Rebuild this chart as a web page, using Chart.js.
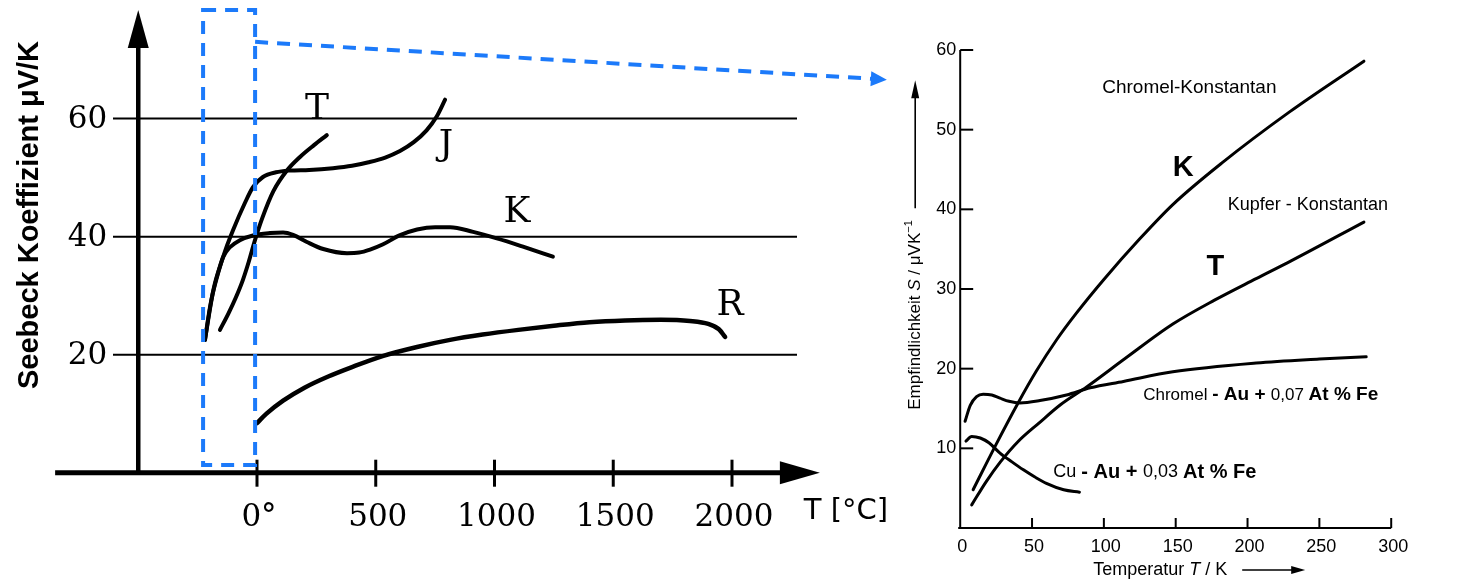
<!DOCTYPE html>
<html><head><meta charset="utf-8">
<script src="https://cdn.jsdelivr.net/npm/chart.js@4.4.1/dist/chart.umd.min.js"></script>
<style>
html,body{margin:0;padding:0;background:#fff;}
#wrap{position:relative;width:1467px;height:582px;overflow:hidden;background:#fff}
.box{position:absolute;top:0;}
</style></head><body>
<div id="wrap">
<div class="box" style="left:0;width:900px;height:582px"><canvas id="left" width="900" height="582"></canvas></div>
<div class="box" style="left:900px;width:567px;height:582px"><canvas id="right" width="567" height="582"></canvas></div>
</div>
<script>
// ---------- LEFT CHART DATA (T in °C, Seebeck coefficient in µV/K) ----------
const leftXTicks = [0, 500, 1000, 1500, 2000];
const leftXTickLabels = ['0°', '500', '1000', '1500', '2000'];
const leftYTicks = [20, 40, 60];
const leftYTickLabels = ['20', '40', '60'];
const leftSeriesNames = ['T', 'J', 'K', 'R'];

const typeT_temp    = [-156, -120, -90, -60, -35, -10, 21, 69, 126, 181, 240, 294];
const typeT_seebeck = [24.2, 27.0, 29.6, 32.6, 35.7, 39.2, 43.0, 47.7, 51.2, 53.5, 55.5, 57.2];

const typeJ_temp    = [-219, -198, -177, -147, -126, -101, -51, -17, 25, 80, 139, 220, 320, 400, 470, 540, 602, 660, 714, 756, 792];
const typeJ_seebeck = [22.5, 28.0, 32.1, 36.0, 38.5, 41.1, 45.7, 48.4, 50.1, 50.9, 51.2, 51.3, 51.6, 52.0, 52.6, 53.4, 54.5, 56.0, 58.0, 60.3, 63.2];

const typeK_temp    = [-219, -189, -168, -143, -114, -72, -17, 55, 110, 152, 210, 279, 379, 430, 476, 531, 600, 674, 750, 813, 910, 1010, 1120, 1246];
const typeK_seebeck = [22.5, 29.8, 33.2, 36.5, 38.2, 39.4, 40.2, 40.6, 40.7, 40.3, 39.1, 37.9, 37.2, 37.3, 37.8, 38.7, 40.2, 41.2, 41.6, 41.6, 40.8, 39.7, 38.3, 36.6];

const typeR_temp    = [0, 40, 110, 200, 300, 400, 532, 674, 813, 950, 1100, 1250, 1400, 1550, 1700, 1823, 1900, 1945, 1971];
const typeR_seebeck = [8.4, 10.0, 12.2, 14.4, 16.3, 17.9, 19.8, 21.3, 22.5, 23.4, 24.2, 24.9, 25.5, 25.8, 25.9, 25.7, 25.2, 24.3, 23.0];

// ---------- RIGHT CHART DATA (T in K, S in µV/K) ----------
const rightXTicks = [0, 50, 100, 150, 200, 250, 300];
const rightXTickLabels = ['0', '50', '100', '150', '200', '250', '300'];
const rightYTicks = [10, 20, 30, 40, 50, 60];
const rightYTickLabels = ['10', '20', '30', '40', '50', '60'];

const chromelKonst_temp = [9, 25, 40, 53, 67, 81, 100, 125, 148, 182, 229, 281];
const chromelKonst_S    = [4.8, 10.5, 15.6, 19.7, 23.6, 27.0, 31.2, 36.3, 40.6, 45.8, 52.2, 58.6];

const kupferKonst_temp = [8, 18, 28, 40, 55, 70, 88, 115, 148, 177, 206, 230, 281];
const kupferKonst_S    = [2.9, 5.8, 8.3, 10.8, 13.2, 15.5, 17.7, 21.3, 25.6, 28.6, 31.3, 33.5, 38.4];

const chromelAu_temp = [3.4, 7, 11.4, 16, 22, 27.7, 34, 41.6, 55.5, 74, 90.5, 113.6, 148, 206, 250, 282.6];
const chromelAu_S    = [13.4, 15.4, 16.5, 16.8, 16.7, 16.3, 15.9, 15.7, 16.0, 16.7, 17.6, 18.4, 19.6, 20.7, 21.2, 21.5];

const cuAu_temp = [4, 8, 14, 20, 27.7, 36, 44, 52, 60, 72, 83];
const cuAu_S    = [10.9, 11.5, 11.3, 10.7, 9.4, 8.3, 7.3, 6.4, 5.6, 4.8, 4.5];

// ---------- helpers ----------
const pts = (xs, ys) => xs.map((x, i) => ({ x: x, y: ys[i] }));
const BLUE = 'rgb(28,122,250)';
function arrowHead(ctx, tx, ty, ux, uy, len, half) {
  const bx = tx - ux * len, by = ty - uy * len;
  ctx.beginPath();
  ctx.moveTo(tx, ty);
  ctx.lineTo(bx - uy * half, by + ux * half);
  ctx.lineTo(bx + uy * half, by - ux * half);
  ctx.closePath();
  ctx.fill();
}
function line(ctx, x1, y1, x2, y2) { ctx.beginPath(); ctx.moveTo(x1, y1); ctx.lineTo(x2, y2); ctx.stroke(); }
function segs(ctx, parts, x, y) {
  let cx = x;
  parts.forEach(([t, f]) => { ctx.font = f; ctx.fillText(t, cx, y); cx += ctx.measureText(t).width; });
}
const lineDs = (label, xs, ys, w) => ({
  label: label, data: pts(xs, ys), borderColor: '#000', borderWidth: w,
  pointRadius: 0, fill: false, cubicInterpolationMode: 'monotone', borderCapStyle: 'round', borderJoinStyle: 'round'
});

// ---------- LEFT CHART ----------
const leftYAxisAt = -500, leftXAxisFrom = -850, leftXAxisTo = 2370;
const leftLabelPos = { T: [253, 61.6], J: [796, 55.5], K: [1095, 44.0], R: [1992, 28.3] };
const zoomBoxT = [-227, -8], zoomBoxS = [1.3, 78.4];
const zoomArrowFrom = [-8, 73.0], zoomArrowTo = [2652, 66.6];
const SERIF = '"DejaVu Serif", "Liberation Serif", serif';

const leftDeco = {
  id: 'leftDeco',
  beforeDatasetsDraw(chart) {
    const { ctx, chartArea: a, scales: { x, y } } = chart;
    ctx.save();
    ctx.strokeStyle = '#000'; ctx.fillStyle = '#000';
    ctx.lineWidth = 2;
    leftYTicks.forEach(v => { const py = y.getPixelForValue(v); line(ctx, a.left, py, a.right, py); });
    const ax = x.getPixelForValue(leftYAxisAt), y0 = y.getPixelForValue(0);
    ctx.lineWidth = 4.5; line(ctx, ax, y0 + 2, ax, a.top + 30);
    arrowHead(ctx, ax, a.top, 0, -1, 38, 10.5);
    const xs = x.getPixelForValue(leftXAxisFrom), xe = x.getPixelForValue(leftXAxisTo);
    ctx.lineWidth = 5; line(ctx, xs, y0, xe - 30, y0);
    arrowHead(ctx, xe, y0, 1, 0, 40, 11.5);
    ctx.lineWidth = 3;
    leftXTicks.forEach(t => { const px = x.getPixelForValue(t); line(ctx, px, y0 - 13, px, y0 + 14); });
    ctx.font = '31px ' + SERIF;
    ctx.textBaseline = 'middle';
    ctx.textAlign = 'center';
    leftXTicks.forEach((t, i) => ctx.fillText(leftXTickLabels[i], x.getPixelForValue(t) + 2, y0 + 45));
    ctx.textAlign = 'right';
    leftYTicks.forEach((v, i) => ctx.fillText(leftYTickLabels[i], ax - 31, y.getPixelForValue(v) + 1));
    // axis titles
    ctx.textAlign = 'center';
    ctx.font = '29px "DejaVu Sans", sans-serif';
    ctx.fillText('T [°C]', xe + 26, y0 + 39);
    ctx.save();
    ctx.translate(30, 215); ctx.rotate(-Math.PI / 2);
    ctx.font = 'bold 29px "Liberation Sans", Arial, sans-serif';
    ctx.fillText('Seebeck Koeffizient μV/K', 0, 0);
    ctx.restore();
    ctx.restore();
  },
  afterDraw(chart) {
    const { ctx, scales: { x, y } } = chart;
    ctx.save();
    ctx.fillStyle = '#000';
    ctx.font = '36px ' + SERIF;
    ctx.textAlign = 'center'; ctx.textBaseline = 'middle';
    leftSeriesNames.forEach(n => { const p = leftLabelPos[n]; ctx.fillText(n, x.getPixelForValue(p[0]), y.getPixelForValue(p[1])); });
    // blue dashed zoom box + arrow
    ctx.strokeStyle = BLUE; ctx.fillStyle = BLUE; ctx.lineWidth = 4;
    ctx.setLineDash([13, 9]);
    const bx1 = x.getPixelForValue(zoomBoxT[0]), bx2 = x.getPixelForValue(zoomBoxT[1]);
    const by1 = y.getPixelForValue(zoomBoxS[1]), by2 = y.getPixelForValue(zoomBoxS[0]);
    ctx.strokeRect(bx1, by1, bx2 - bx1, by2 - by1);
    const sx = x.getPixelForValue(zoomArrowFrom[0]), sy = y.getPixelForValue(zoomArrowFrom[1]);
    const ex = x.getPixelForValue(zoomArrowTo[0]), ey = y.getPixelForValue(zoomArrowTo[1]);
    const L = Math.hypot(ex - sx, ey - sy), ux = (ex - sx) / L, uy = (ey - sy) / L;
    line(ctx, sx, sy, ex - ux * 15, ey - uy * 15);
    ctx.setLineDash([]);
    arrowHead(ctx, ex, ey, ux, uy, 16, 7.5);
    ctx.restore();
  }
};

new Chart(document.getElementById('left'), {
  type: 'line',
  data: { datasets: [
    lineDs('T', typeT_temp, typeT_seebeck, 4),
    lineDs('J', typeJ_temp, typeJ_seebeck, 4),
    lineDs('K', typeK_temp, typeK_seebeck, 4),
    lineDs('R', typeR_temp, typeR_seebeck, 4.5)
  ] },
  options: {
    responsive: false, animation: false, devicePixelRatio: 1,
    layout: { padding: { left: 113, right: 103, top: 10, bottom: 109.3 } },
    scales: {
      x: { type: 'linear', min: -606.3, max: 2273.7, display: false },
      y: { type: 'linear', min: 0, max: 78.4, display: false }
    },
    plugins: { legend: { display: false }, tooltip: { enabled: false } }
  },
  plugins: [leftDeco]
});

// ---------- RIGHT CHART ----------
const SANS = '"Liberation Sans", sans-serif';
const rightLabels = [
  { parts: [['Chromel-Konstantan', '19px ' + SANS]], at: [159.5, 55.3], align: 'center' },
  { parts: [['K', 'bold 29px ' + SANS]], at: [155.3, 45.2], align: 'center' },
  { parts: [['Kupfer - Konstantan', '18px ' + SANS]], at: [242, 40.6], align: 'center' },
  { parts: [['T', 'bold 29px ' + SANS]], at: [177.6, 32.8], align: 'center' },
  { parts: [['Chromel ', '17px ' + SANS], ['- Au + ', 'bold 19px ' + SANS],
            ['0,07 ', '17px ' + SANS], ['At % Fe', 'bold 19px ' + SANS]], at: [127.4, 16.7], align: 'left' },
  { parts: [['Cu ', '18px ' + SANS], ['- Au + ', 'bold 20px ' + SANS],
            ['0,03 ', '18px ' + SANS], ['At % Fe', 'bold 20px ' + SANS]], at: [64.8, 7.0], align: 'left' }
];

const rightDeco = {
  id: 'rightDeco',
  beforeDatasetsDraw(chart) {
    const { ctx, chartArea: a, scales: { x, y } } = chart;
    ctx.save();
    ctx.strokeStyle = '#000'; ctx.fillStyle = '#000'; ctx.lineWidth = 2;
    const x0 = x.getPixelForValue(0), y0 = y.getPixelForValue(0);
    line(ctx, x0, y0 + 1, x0, y.getPixelForValue(60));
    line(ctx, x0 - 2, y0, x.getPixelForValue(300), y0);
    rightYTicks.forEach(v => { const py = y.getPixelForValue(v); line(ctx, x0, py, x0 + 13, py); });
    rightXTicks.forEach(t => { if (t > 0) { const px = x.getPixelForValue(t); line(ctx, px, y0, px, y0 - 10); } });
    ctx.font = '18px ' + SANS;
    ctx.textBaseline = 'middle';
    ctx.textAlign = 'right';
    rightYTicks.forEach((v, i) => ctx.fillText(rightYTickLabels[i], x0 - 4, y.getPixelForValue(v)));
    ctx.textAlign = 'center';
    rightXTicks.forEach((t, i) => ctx.fillText(rightXTickLabels[i], x.getPixelForValue(t) + 2, y0 + 19));
    // x title
    ctx.textAlign = 'left';
    segs(ctx, [['Temperatur ', '18px ' + SANS], ['T', 'italic 18px ' + SANS], [' / K', '18px ' + SANS]], x0 + 133, y0 + 42);
    ctx.lineWidth = 1.6;
    line(ctx, x0 + 282, y0 + 42, x0 + 335, y0 + 42);
    arrowHead(ctx, x0 + 345, y0 + 42, 1, 0, 14, 4);
    // y title
    ctx.save();
    ctx.translate(x0 - 45, 315); ctx.rotate(-Math.PI / 2);
    ctx.textAlign = 'left';
    const F = '17px ' + SANS, FI = 'italic 17px ' + SANS, FS = '11px ' + SANS;
    const t1 = 'Empfindlichkeit ', t3 = ' / μVK';
    ctx.font = F; const w1 = ctx.measureText(t1).width, w3 = ctx.measureText(t3).width;
    ctx.font = FI; const w2 = ctx.measureText('S').width;
    ctx.font = FS; const w4 = ctx.measureText('−1').width;
    const start = -(w1 + w2 + w3 + w4) / 2;
    segs(ctx, [[t1, F], ['S', FI], [t3, F]], start, 0);
    ctx.font = FS;
    ctx.fillText('−1', start + w1 + w2 + w3, -6);
    const endT = start + w1 + w2 + w3 + w4;
    ctx.lineWidth = 1.6;
    line(ctx, endT + 12, 0, endT + 125, 0);
    arrowHead(ctx, endT + 140, 0, 1, 0, 18, 4);
    ctx.restore();
    ctx.restore();
  },
  afterDraw(chart) {
    const { ctx, scales: { x, y } } = chart;
    ctx.save();
    ctx.fillStyle = '#000';
    ctx.textBaseline = 'middle';
    rightLabels.forEach(l => {
      let px = x.getPixelForValue(l.at[0]);
      const py = y.getPixelForValue(l.at[1]);
      if (l.align === 'center') {
        let w = 0; l.parts.forEach(([t, f]) => { ctx.font = f; w += ctx.measureText(t).width; });
        px -= w / 2;
      }
      ctx.textAlign = 'left';
      segs(ctx, l.parts, px, py);
    });
    ctx.restore();
  }
};

new Chart(document.getElementById('right'), {
  type: 'line',
  data: { datasets: [
    lineDs('Chromel-Konstantan (K)', chromelKonst_temp, chromelKonst_S, 3),
    lineDs('Kupfer-Konstantan (T)', kupferKonst_temp, kupferKonst_S, 3),
    lineDs('Chromel - Au + 0,07 At % Fe', chromelAu_temp, chromelAu_S, 3),
    lineDs('Cu - Au + 0,03 At % Fe', cuAu_temp, cuAu_S, 3)
  ] },
  options: {
    responsive: false, animation: false, devicePixelRatio: 1,
    layout: { padding: { left: 60.2, right: 75.8, top: 50, bottom: 54 } },
    scales: {
      x: { type: 'linear', min: 0, max: 300, display: false },
      y: { type: 'linear', min: 0, max: 60, display: false }
    },
    plugins: { legend: { display: false }, tooltip: { enabled: false } }
  },
  plugins: [rightDeco]
});
</script>
</body></html>
